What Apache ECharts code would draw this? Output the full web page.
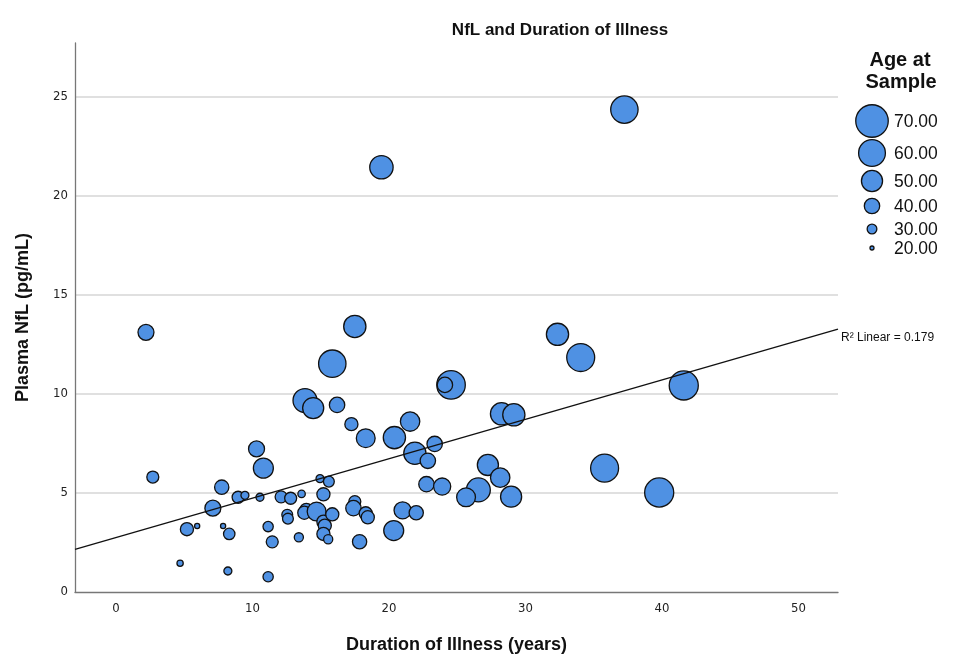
<!DOCTYPE html>
<html>
<head>
<meta charset="utf-8">
<script src="https://cdn.jsdelivr.net/npm/echarts@6/dist/echarts.min.js"></script>
<style>
html,body{margin:0;padding:0;background:#fff;}
#chart{width:969px;height:658px;}
</style>
</head>
<body>
<div id="chart"></div>
<script>
// Duration of illness (years)
const duration = [2.2, 2.7, 4.7, 5.2, 5.95, 7.1, 7.75, 7.85, 8.3, 8.2, 8.95, 9.45, 10.3, 10.8, 10.55, 11.15, 11.45, 11.15,
  12.1, 12.8, 12.55, 12.6, 13.6, 13.4, 13.95, 13.8, 14.7, 15.2, 14.95, 15.6, 15.2, 15.3, 15.85, 15.2, 15.55,
  13.85, 14.45, 16.2, 17.25, 18.3, 20.4, 21.55, 21.9, 22.85, 23.35, 22.75, 23.9, 17.5, 17.4, 18.3, 18.45, 17.85,
  21.0, 22.0, 20.35, 24.55, 24.1, 28.25, 29.15, 27.25, 28.15, 28.95, 26.55, 25.65, 17.5, 15.85, 32.35, 34.05,
  41.6, 35.8, 39.8, 19.45, 37.25];
// Plasma NfL (pg/mL)
const nfl = [13.1, 5.8, 1.45, 3.17, 3.33, 4.23, 5.29, 3.33, 2.93, 1.06, 4.78, 4.88, 7.22, 6.25, 4.78, 3.3, 2.53, 0.77,
  4.8, 4.73, 3.9, 3.7, 4.95, 2.76, 4.14, 4.0, 4.06, 4.93, 5.72, 5.57, 3.55, 3.35, 3.92, 2.93, 2.66,
  9.66, 9.28, 9.44, 8.47, 7.76, 7.79, 8.6, 7.0, 6.62, 7.47, 5.44, 5.32, 4.56, 4.23, 3.97, 3.77, 2.54,
  4.12, 4.0, 3.1, 10.45, 10.45, 8.99, 8.94, 6.41, 5.77, 4.81, 5.15, 4.78, 13.4, 11.52, 13.0, 11.83,
  10.42, 6.25, 5.02, 21.43, 24.34];
// Age at sample
const age = [41, 34, 24, 36, 22, 41, 38, 22, 33, 27, 34, 27, 41, 48, 27, 31, 34, 31,
  34, 34, 32, 32, 26, 29, 36, 36, 46, 36, 27, 32, 36, 36, 36, 36, 29,
  55, 50, 40, 36, 46, 52, 47, 52, 40, 40, 40, 43, 34, 40, 36, 36, 38,
  43, 38, 48, 63, 40, 52, 52, 50, 47, 50, 55, 46, 52, 61, 52, 62,
  64, 62, 64, 54, 61];

// Linear fit line endpoints
const fitX = [-3, 52.9];
const fitY = [2.15, 13.26];
const fitLabel = 'R\u00B2 Linear = 0.179';

// Axis ticks
const xTicks = [0, 10, 20, 30, 40, 50];
const yTicks = [0, 5, 10, 15, 20, 25];

// Legend
const legendTitle = ['Age at', 'Sample'];
const legendAges = [70, 60, 50, 40, 30, 20];
const legendLabels = ['70.00', '60.00', '50.00', '40.00', '30.00', '20.00'];

function sizeOf(a) { return 4 + (a - 20) * 0.57; }

const FILL = '#4f91e3';
const points = duration.map((d, i) => [d, nfl[i], age[i]]);

const chart = echarts.init(document.getElementById('chart'), null, {renderer: 'canvas'});

const legendY = [121, 153, 181, 206, 229, 248];
const graphics = [
  {type: 'text', x: 900, y: 50, style: {text: legendTitle[0], font: 'bold 20px "Liberation Sans", Arial, sans-serif', fill: '#111', align: 'center', verticalAlign: 'top'}},
  {type: 'text', x: 901, y: 72, style: {text: legendTitle[1], font: 'bold 20px "Liberation Sans", Arial, sans-serif', fill: '#111', align: 'center', verticalAlign: 'top'}}
];
legendAges.forEach((a, i) => {
  graphics.push({type: 'circle', shape: {cx: 872, cy: legendY[i], r: sizeOf(a) / 2},
    style: {fill: FILL, stroke: '#111', lineWidth: 1.3}});
  graphics.push({type: 'text', x: 894, y: legendY[i] + 1, style: {text: legendLabels[i], font: '17.5px "Liberation Sans", Arial, sans-serif', fill: '#111', verticalAlign: 'middle', align: 'left'}});
});

const option = {
  backgroundColor: '#fff',
  animation: false,
  title: {
    text: 'NfL and Duration of Illness',
    left: 555, top: 17, textAlign: 'center',
    textStyle: {fontFamily: '"Liberation Sans", Arial, sans-serif', fontWeight: 'bold', fontSize: 17, color: '#111'}
  },
  grid: {left: 75, right: 131, top: 43, bottom: 66, containLabel: false, outerBoundsMode: 'none'},
  xAxis: {
    type: 'value', min: -3, max: 52.9,
    name: 'Duration of Illness (years)', nameLocation: 'middle', nameGap: 44,
    nameTextStyle: {fontFamily: '"Liberation Sans", Arial, sans-serif', fontWeight: 'bold', fontSize: 18, color: '#111'},
    axisLine: {show: true, onZero: false, lineStyle: {color: '#777', width: 1.3}},
    axisTick: {show: false},
    splitLine: {show: false},
    axisLabel: {customValues: xTicks, margin: 10, fontFamily: '"DejaVu Sans Condensed", "Liberation Sans", sans-serif', fontSize: 13, color: '#222'}
  },
  yAxis: {
    type: 'value', min: 0, max: 27.7, interval: 5,
    name: 'Plasma NfL (pg/mL)', nameLocation: 'middle', nameGap: 43,
    nameTextStyle: {fontFamily: '"Liberation Sans", Arial, sans-serif', fontWeight: 'bold', fontSize: 18, color: '#111'},
    axisLine: {show: true, onZero: false, lineStyle: {color: '#777', width: 1.3}},
    axisTick: {show: false},
    splitLine: {show: true, showMaxLine: false, showMinLine: false, lineStyle: {color: '#d6d6d6', width: 1.5}},
    axisLabel: {customValues: yTicks, margin: 7, fontFamily: '"DejaVu Sans Condensed", "Liberation Sans", sans-serif', fontSize: 13, color: '#222'}
  },
  series: [
    {
      type: 'line', z: 3,
      data: fitX.map((x, i) => [x, fitY[i]]),
      symbol: 'none', silent: true,
      lineStyle: {color: '#111', width: 1.3},
      endLabel: {show: true, formatter: fitLabel, distance: 3, fontFamily: '"Liberation Sans", Arial, sans-serif', fontSize: 12, color: '#111', offset: [0, 8]}
    },
    {
      type: 'scatter', z: 2,
      data: points,
      symbolSize: v => sizeOf(v[2]),
      itemStyle: {color: FILL, borderColor: '#111', borderWidth: 1.3, opacity: 1}
    }
  ],
  graphic: graphics
};
chart.setOption(option);
</script>
</body>
</html>
